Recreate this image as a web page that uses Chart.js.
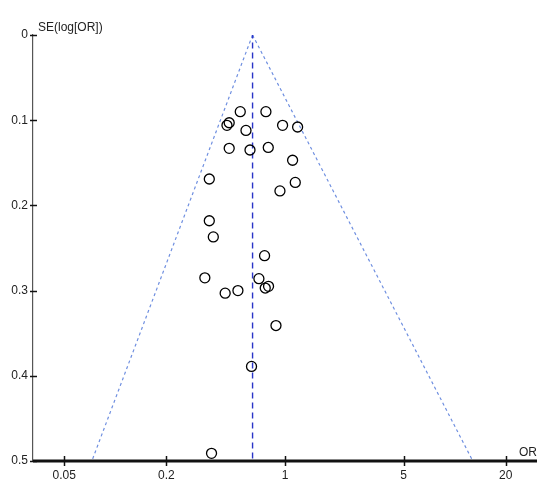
<!DOCTYPE html>
<html>
<head>
<meta charset="utf-8">
<script src="https://cdn.jsdelivr.net/npm/chart.js@4"></script>
<style>
  html, body { margin: 0; padding: 0; background: #fff; }
  #wrap { width: 550px; height: 495px; }
</style>
</head>
<body>
<div id="wrap"><canvas id="funnel" width="550" height="495"></canvas></div>
<script>
// study estimates
const studyOR = [0.545, 0.772, 0.469, 0.455, 0.589, 0.968, 1.187, 0.469, 0.622, 0.797,
                 1.109, 0.358, 1.150, 0.934, 0.358, 0.378, 0.758, 0.337, 0.702, 0.444,
                 0.528, 0.765, 0.800, 0.885, 0.635, 0.369];
const studySE = [0.090, 0.090, 0.103, 0.106, 0.112, 0.106, 0.108, 0.133, 0.135, 0.132,
                 0.147, 0.169, 0.173, 0.183, 0.218, 0.237, 0.259, 0.285, 0.286, 0.303,
                 0.300, 0.297, 0.295, 0.341, 0.389, 0.491];

// pooled estimate and funnel limits
const pooledOR = 0.644;
const funnelSE = [0, 0.5];
const funnelLeftOR = [0.644, 0.0727];
const funnelRightOR = [0.644, 12.8];

const xTicks = [0.05, 0.2, 1, 5, 20];
const yTicks = [0, 0.1, 0.2, 0.3, 0.4, 0.5];

const font = { family: "'Liberation Sans', Arial, sans-serif", size: 12 };

const axisDecor = {
    id: "axisDecor",
    afterDraw(chart) {
        const { ctx, chartArea, scales } = chart;
        ctx.save();
        // x axis line (drawn here so it stops at the plot edge)
        ctx.strokeStyle = "#111";
        ctx.lineWidth = 3;
        ctx.beginPath();
        ctx.moveTo(chartArea.left, chartArea.bottom);
        ctx.lineTo(chartArea.right, chartArea.bottom);
        ctx.stroke();

        ctx.lineWidth = 1.5;
        // y ticks crossing the axis
        yTicks.forEach(v => {
            const y = Math.round(scales.y.getPixelForValue(v)) + 0.5;
            ctx.beginPath();
            ctx.moveTo(chartArea.left - 3, y);
            ctx.lineTo(chartArea.left + 4, y);
            ctx.stroke();
        });
        // x ticks crossing the axis
        xTicks.forEach(v => {
            const x = Math.round(scales.x.getPixelForValue(v)) + 0.5;
            ctx.beginPath();
            ctx.moveTo(x, chartArea.bottom - 5);
            ctx.lineTo(x, chartArea.bottom + 5);
            ctx.stroke();
        });
        ctx.fillStyle = "#222";
        ctx.font = "12px 'Liberation Sans', Arial, sans-serif";
        ctx.textBaseline = "alphabetic";
        ctx.textAlign = "left";
        ctx.fillText("SE(log[OR])", chartArea.left + 5, 31);
        ctx.textAlign = "right";
        ctx.fillText("OR", chartArea.right, chartArea.bottom - 5);
        ctx.restore();
    }
};

new Chart(document.getElementById("funnel"), {
    type: "scatter",
    data: {
        datasets: [
            {
                label: "studies",
                data: studyOR.map((or, i) => ({ x: or, y: studySE[i] })),
                pointStyle: "circle",
                pointRadius: 5,
                pointBorderWidth: 1.3,
                pointBorderColor: "#000",
                pointBackgroundColor: "rgba(0,0,0,0)",
                showLine: false,
                order: 1,
            },
            {
                label: "pooled",
                data: [{ x: pooledOR, y: -0.003 }, { x: pooledOR, y: 0.5 }],
                showLine: true,
                borderColor: "#2a35c8",
                borderWidth: 1.4,
                borderDash: [6, 4],
                pointRadius: 0,
                order: 2,
            },
            {
                label: "lower limit",
                data: funnelSE.map((se, i) => ({ x: funnelLeftOR[i], y: se })),
                showLine: true,
                borderColor: "#6f8fe0",
                borderWidth: 1.2,
                borderDash: [3, 3],
                pointRadius: 0,
                order: 3,
            },
            {
                label: "upper limit",
                data: funnelSE.map((se, i) => ({ x: funnelRightOR[i], y: se })),
                showLine: true,
                borderColor: "#6f8fe0",
                borderWidth: 1.2,
                borderDash: [3, 3],
                pointRadius: 0,
                order: 3,
            },
        ],
    },
    options: {
        responsive: false,
        animation: false,
        devicePixelRatio: 1,
        layout: { padding: { top: 35, right: 13, left: 0, bottom: 0 } },
        plugins: { legend: { display: false }, tooltip: { enabled: false } },
        scales: {
            x: {
                type: "logarithmic",
                min: 0.0327,
                max: 30.6,
                afterBuildTicks: scale => { scale.ticks = xTicks.map(v => ({ value: v })); },
                afterFit: scale => { scale.height = 34; },
                grid: { display: true, drawOnChartArea: false, drawTicks: false },
                border: { display: false },
                ticks: {
                    autoSkip: false,
                    maxRotation: 0,
                    padding: 7,
                    color: "#222",
                    font: font,
                    callback: v => String(v),
                },
            },
            y: {
                reverse: true,
                min: 0,
                max: 0.5,
                afterBuildTicks: scale => { scale.ticks = yTicks.map(v => ({ value: v })); },
                afterFit: scale => { scale.width = 33; },
                grid: { display: true, drawOnChartArea: false, drawTicks: false },
                border: { display: true, color: "#555", width: 1.2 },
                ticks: {
                    padding: 5,
                    color: "#222",
                    font: font,
                    callback: v => String(v),
                },
            },
        },
    },
    plugins: [axisDecor],
});
</script>
</body>
</html>
